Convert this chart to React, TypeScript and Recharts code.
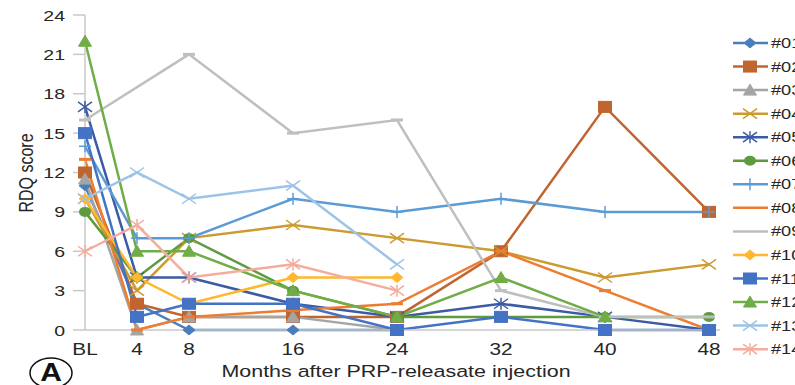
import React from 'react';
import { LineChart, Line, XAxis, YAxis, Legend } from 'recharts';

const months = [0, 4, 8, 16, 24, 32, 40, 48];
const xTicks = [0, 4, 8, 16, 24, 32, 40, 48];
const yTicks = [0, 3, 6, 9, 12, 15, 18, 21, 24];
const seriesNames = ['#01', '#02', '#03', '#04', '#05', '#06', '#07', '#08', '#09', '#10', '#11', '#12', '#13', '#14'];

const p01 = [11, 2, 0, 0, 0, null, null, null];
const p02 = [12, 2, 1, 1, 1, 6, 17, 9];
const p03 = [11.5, 0, 1, 1, 0, null, null, null];
const p04 = [10, 3, 7, 8, 7, 6, 4, 5];
const p05 = [17, 4, 4, 2, 1, 2, 1, 0];
const p06 = [9, 4, 7, 3, 1, 1, 1, 1];
const p07 = [14, 7, 7, 10, 9, 10, 9, 9];
const p08 = [13, 0, 1, 1.5, 2, 6, 3, 0];
const p09 = [16, null, 21, 15, 16, 3, 1, 1];
const p10 = [10, 4, 2, 4, 4, null, null, null];
const p11 = [15, 1, 2, 2, 0, 1, 0, 0];
const p12 = [22, 6, 6, 3, 1, 4, 1, null];
const p13 = [10, 12, 10, 11, 5, null, null, null];
const p14 = [6, 8, 4, 5, 3, null, null, null];

const seriesValues = [p01, p02, p03, p04, p05, p06, p07, p08, p09, p10, p11, p12, p13, p14];

const colors = ['#4A7EBB', '#C0652F', '#A5A5A5', '#CC9A2E', '#3B5BA5', '#5E9A3E', '#5B9BD5', '#ED7D31', '#BFBFBF', '#FFB82E', '#4472C4', '#70AD47', '#9DC3E6', '#F4AC9C'];
const shapes = ['diamond', 'square', 'triangle', 'x', 'star', 'circle', 'plus', 'dash', 'dash', 'diamond', 'square', 'triangle', 'x', 'star'];

const data = months.map((m, i) => {
  const row: any = { month: m };
  seriesValues.forEach((arr, k) => {
    row['s' + k] = arr[i];
  });
  return row;
});

const FONT = '"Liberation Sans", Arial, sans-serif';

function drawMarker(shape: string, color: string, cx: number, cy: number, key?: any) {
  switch (shape) {
    case 'diamond':
      return <polygon key={key} points={`${cx - 6},${cy} ${cx},${cy - 5} ${cx + 6},${cy} ${cx},${cy + 5}`} fill={color} stroke={color} strokeWidth={1} />;
    case 'square':
      return <rect key={key} x={cx - 6.5} y={cy - 5.5} width={13} height={11} fill={color} stroke={color} strokeWidth={1} />;
    case 'triangle':
      return <polygon key={key} points={`${cx - 6.5},${cy + 5} ${cx},${cy - 6} ${cx + 6.5},${cy + 5}`} fill={color} stroke={color} strokeWidth={1} />;
    case 'circle':
      return <ellipse key={key} cx={cx} cy={cy} rx={6} ry={5} fill={color} />;
    case 'x':
      return (
        <g key={key} stroke={color} strokeWidth={1.5}>
          <line x1={cx - 7} y1={cy - 5} x2={cx + 7} y2={cy + 5} />
          <line x1={cx - 7} y1={cy + 5} x2={cx + 7} y2={cy - 5} />
        </g>
      );
    case 'star':
      return (
        <g key={key} stroke={color} strokeWidth={1.5}>
          <line x1={cx - 7} y1={cy - 5} x2={cx + 7} y2={cy + 5} />
          <line x1={cx - 7} y1={cy + 5} x2={cx + 7} y2={cy - 5} />
          <line x1={cx} y1={cy - 6} x2={cx} y2={cy + 6} />
        </g>
      );
    case 'plus':
      return (
        <g key={key} stroke={color} strokeWidth={1.5}>
          <line x1={cx} y1={cy - 6} x2={cx} y2={cy + 6} />
          <line x1={cx - 6} y1={cy} x2={cx + 6} y2={cy} />
        </g>
      );
    case 'dash':
    default:
      return <line key={key} x1={cx - 6} y1={cy} x2={cx + 6} y2={cy} stroke={color} strokeWidth={3} />;
  }
}

const makeDot = (shape: string, color: string) => (props: any) => {
  const { cx, cy, index, value } = props;
  if (cx == null || cy == null || value == null || isNaN(cx) || isNaN(cy)) {
    return <g key={'e' + index} />;
  }
  return drawMarker(shape, color, cx, cy, 'd' + index);
};

const XTick = (props: any) => {
  const { x, y, payload } = props;
  const label = payload.value === 0 ? 'BL' : String(payload.value);
  return (
    <text transform={`translate(${x},355) scale(1.3,1)`} textAnchor="middle" fontSize={16} fontFamily={FONT} fill="#262626">
      {label}
    </text>
  );
};

const YTick = (props: any) => {
  const { x, y, payload } = props;
  return (
    <text transform={`translate(${x},${y + 5.5}) scale(1.3,1)`} textAnchor="end" fontSize={15} fontFamily={FONT} fill="#262626">
      {payload.value}
    </text>
  );
};

const LegendContent = () => (
  <svg width={70} height={340} style={{ overflow: 'visible', display: 'block' }}>
    {seriesNames.map((name, i) => {
      const cy = 13 + i * 23.55;
      return (
        <g key={name}>
          <line x1={5} y1={cy} x2={40} y2={cy} stroke={colors[i]} strokeWidth={2.5} />
          {shapes[i] !== 'dash' && drawMarker(shapes[i], colors[i], 22, cy)}
          <text transform={`translate(43,${cy + 5}) scale(1.3,1)`} fontSize={14} fontFamily={FONT} fill="#262626">
            {name}
          </text>
        </g>
      );
    })}
  </svg>
);

export default function App() {
  return (
    <div style={{ position: 'absolute', left: 0, top: 0, width: 795, height: 385, background: '#fff', overflow: 'hidden' }}>
      <LineChart width={795} height={385} data={data} margin={{ top: 15, right: 75, bottom: 25, left: 0 }}>
        <XAxis
          dataKey="month"
          type="number"
          domain={[0, 48]}
          ticks={xTicks}
          interval={0}
          height={30}
          padding={{ left: 0, right: 11 }}
          axisLine={{ stroke: '#C8C8C8', strokeWidth: 1.5 }}
          tickLine={false}
          tickSize={0}
          tickMargin={0}
          tick={<XTick />}
          label={(p: any) => (
            <text transform="translate(396,377) scale(1.3,1)" textAnchor="middle" fontSize={16.5} fontFamily={FONT} fill="#262626">
              Months after PRP-releasate injection
            </text>
          )}
        />
        <YAxis
          type="number"
          domain={[0, 24]}
          ticks={yTicks}
          interval={0}
          width={85}
          axisLine={{ stroke: '#C8C8C8', strokeWidth: 1.5 }}
          tickLine={{ stroke: '#C8C8C8', strokeWidth: 1.5 }}
          tickSize={12}
          tickMargin={8}
          tick={<YTick />}
          label={(p: any) => (
            <text transform="translate(33,173) scale(1.3,1) rotate(-90)" textAnchor="middle" fontSize={16} fontFamily={FONT} fill="#262626">
              RDQ score
            </text>
          )}
        />
        {seriesNames.map((name, i) => (
          <Line
            key={name}
            name={name}
            type="linear"
            dataKey={'s' + i}
            stroke={colors[i]}
            strokeWidth={2.5}
            dot={makeDot(shapes[i], colors[i])}
            activeDot={false}
            connectNulls={i === 8}
            isAnimationActive={false}
          />
        ))}
        <Legend
          layout="horizontal"
          align="center"
          verticalAlign="middle"
          width={70}
          height={340}
          wrapperStyle={{ position: 'absolute', left: 728, top: 30, width: 70, height: 340 }}
          content={<LegendContent />}
        />
      </LineChart>
      <svg width={100} height={40} style={{ position: 'absolute', left: 0, top: 350 }}>
        <ellipse cx={51} cy={23} rx={21} ry={15} fill="none" stroke="#111" strokeWidth={1.5} />
        <text transform="translate(51,31) scale(1.2,1)" textAnchor="middle" fontSize={25} fontWeight="bold" fontFamily={FONT} fill="#111">
          A
        </text>
      </svg>
    </div>
  );
}
